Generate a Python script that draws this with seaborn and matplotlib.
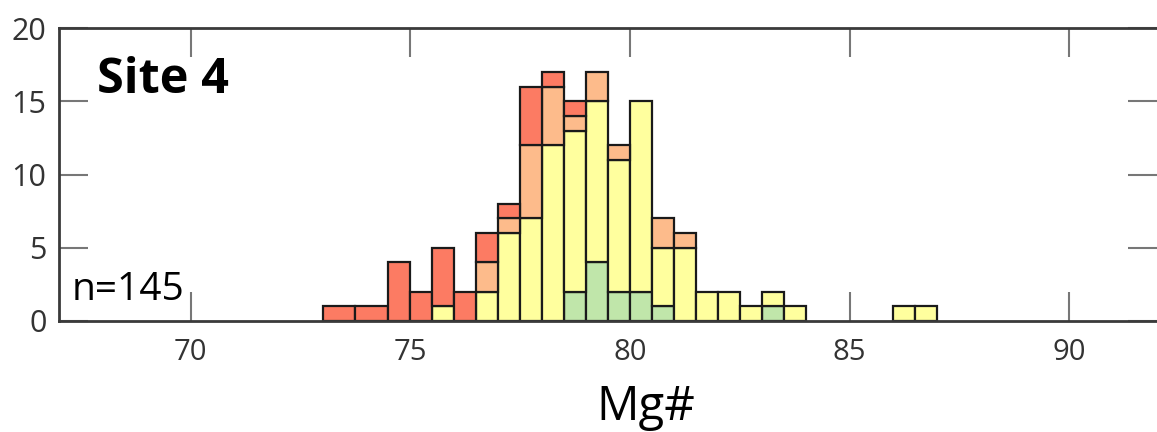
import pandas as pd
import numpy as np
import matplotlib.pyplot as plt
import seaborn as sns

# ── data ──────────────────────────────────────────────────────────────────────
bin_edges = [73, 73.75, 74.5, 75, 75.5, 76, 76.5, 77, 77.5, 78, 78.5, 79, 79.5,
             80, 80.5, 81, 81.5, 82, 82.5, 83, 83.5, 84, 84.5, 85, 85.5, 86,
             86.5, 87]
green = [0, 0, 0, 0, 0, 0, 0, 0, 0, 0, 2, 4, 2, 2, 1, 0, 0, 0, 0, 1, 0, 0, 0, 0, 0, 0, 0]
yellow = [0, 0, 0, 0, 1, 0, 2, 6, 7, 12, 11, 11, 9, 13, 4, 5, 2, 2, 1, 1, 1, 0, 0, 0, 0, 1, 1]
orange = [0, 0, 0, 0, 0, 0, 2, 1, 5, 4, 1, 2, 1, 0, 2, 1, 0, 0, 0, 0, 0, 0, 0, 0, 0, 0, 0]
red = [1, 1, 4, 2, 4, 2, 2, 1, 4, 1, 1, 0, 0, 0, 0, 0, 0, 0, 0, 0, 0, 0, 0, 0, 0, 0, 0]
x_ticks = [70, 75, 80, 85, 90]
y_ticks = [0, 5, 10, 15, 20]

COLORS = {"red": "#FC7B63", "orange": "#FDBB8B", "yellow": "#FFFF9E", "green": "#C0E6AA"}

# long-form table: one row per bin and group, count as weight
mids = [(a + b) / 2 for a, b in zip(bin_edges[:-1], bin_edges[1:])]
rows = []
for name, counts in [("red", red), ("orange", orange), ("yellow", yellow), ("green", green)]:
    for m, c in zip(mids, counts):
        rows.append({"mg": m, "group": name, "count": c})
df = pd.DataFrame(rows)

# ── style ─────────────────────────────────────────────────────────────────────
sns.set_theme(style="ticks")
plt.rcParams["font.family"] = ["Open Sans", "DejaVu Sans"]

W, H = 1157, 432
fig = plt.figure(figsize=(W / 100, H / 100), dpi=100)
ax = fig.add_axes([59 / W, 1 - 321 / H, 1 - 59 / W, (321 - 28) / H])
AW, AH = W - 59, 321 - 28

sns.histplot(data=df, x="mg", weights="count", hue="group",
             hue_order=["red", "orange", "yellow", "green"],
             palette=COLORS, bins=bin_edges, multiple="stack",
             alpha=1, edgecolor="#1a1a1a", linewidth=1.6, legend=False, ax=ax)

# drop empty bars so they don't draw lines along the baseline
for p in list(ax.patches):
    if p.get_height() == 0:
        p.remove()

ax.set_xlim(67, 92)
ax.set_ylim(0, 20)
ax.set_xticks(x_ticks)
ax.set_yticks(y_ticks)
ax.tick_params(axis="both", direction="in", length=21, width=1.5, color="#777777",
               top=True, right=True)
ax.tick_params(axis="x", labelsize=21, labelcolor="#333333", pad=12)
ax.tick_params(axis="y", labelsize=22, labelcolor="#333333", pad=9)
for lab in ax.get_xticklabels():
    lab.set_fontfamily(["Liberation Sans Narrow", "Open Sans", "DejaVu Sans"])
for s in ["left", "bottom", "top"]:
    ax.spines[s].set_color("#3a3a3a")
    ax.spines[s].set_linewidth(2)
ax.spines["right"].set_visible(False)

ax.set_ylabel("")
ax.set_xlabel("Mg#", fontsize=34, color="black")
ax.xaxis.label.set_verticalalignment("baseline")
ax.xaxis.set_label_coords((646 - 59) / AW, (321 - 420) / AH)

ax.text((97 - 59) / AW, (321 - 93) / AH, "Site 4", transform=ax.transAxes,
        fontsize=35, fontweight="bold", color="black", ha="left", va="baseline")
ax.text((72 - 59) / AW, (321 - 300) / AH, "n=145", transform=ax.transAxes,
        fontsize=28, color="black", ha="left", va="baseline")

plt.savefig("out.png", dpi=100)
